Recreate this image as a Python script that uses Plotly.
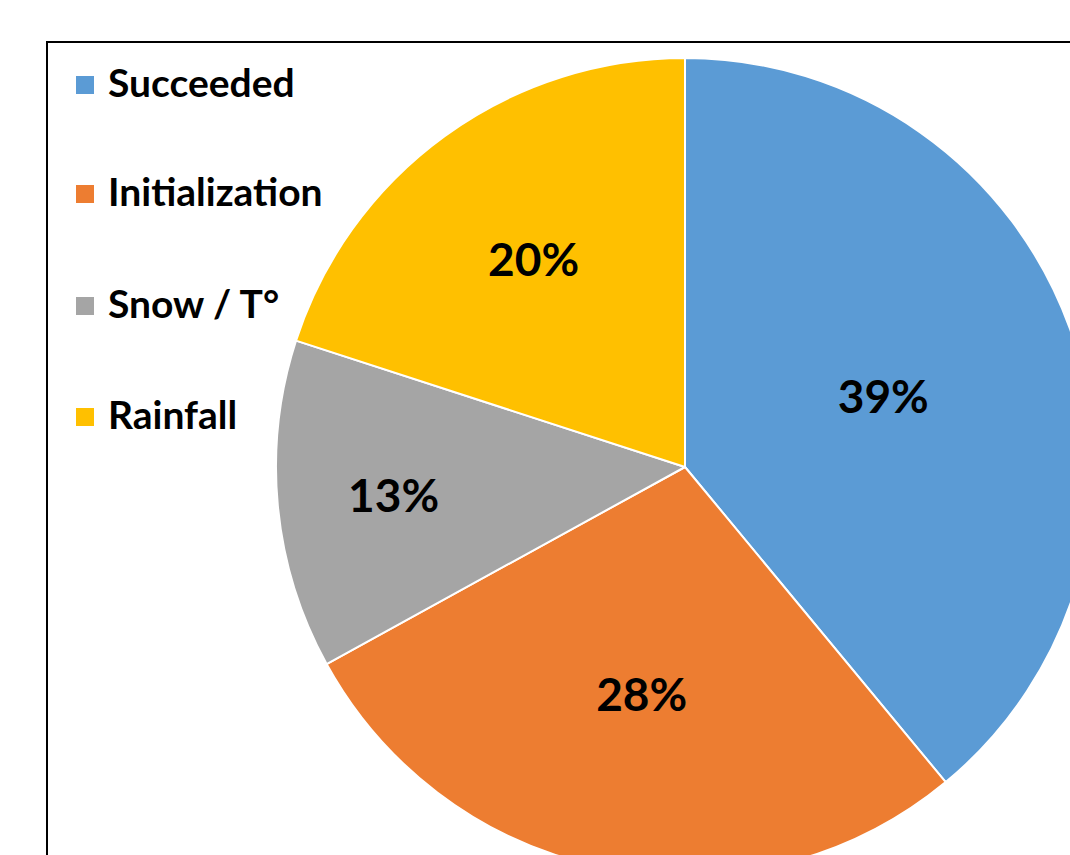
import plotly.graph_objects as go

categories = ["Succeeded", "Initialization", "Snow / T°", "Rainfall"]
values = [39, 28, 13, 20]
colors = ["#5B9BD5", "#ED7D31", "#A5A5A5", "#FFC000"]

W, H = 1120, 900
cx_px, cy_px, r_px = 685, 467, 409

fig = go.Figure()
fig.add_trace(go.Pie(
    labels=categories,
    values=values,
    sort=False,
    direction="clockwise",
    rotation=0,
    marker=dict(colors=colors, line=dict(color="white", width=2)),
    textinfo="percent",
    textposition="inside",
    insidetextorientation="horizontal",
    textfont=dict(family="Lato", size=46, color="black", weight="bold"),
    showlegend=False,
    domain=dict(x=[(cx_px - r_px) / W, (cx_px + r_px) / W],
                y=[1 - (cy_px + r_px) / H, 1 - (cy_px - r_px) / H]),
))

# frame
fig.add_shape(type="rect", xref="paper", yref="paper",
              x0=47 / W, x1=1.2, y0=-0.2, y1=1 - 42 / H,
              line=dict(color="black", width=2), layer="below")

# legend (squares + labels)
row_y = [85, 194, 306, 417]
for i, (lab, col) in enumerate(zip(categories, colors)):
    yc = row_y[i]
    fig.add_shape(type="rect", xref="paper", yref="paper",
                  x0=76 / W, x1=94 / W, y0=1 - (yc + 9) / H, y1=1 - (yc - 9) / H,
                  fillcolor=col, line=dict(width=0))
    fig.add_annotation(xref="paper", yref="paper", x=106 / W, y=1 - (yc - 3) / H,
                       xanchor="left", yanchor="middle", showarrow=False,
                       text=lab, font=dict(family="Lato", size=39, color="black", weight="bold"))

fig.update_layout(width=W, height=H, margin=dict(l=0, r=0, t=0, b=0),
                  paper_bgcolor="white", plot_bgcolor="white")

fig.write_html("out.html", config={"displayModeBar": False},
               post_script="document.body.style.margin='0';document.body.style.overflow='hidden';document.documentElement.style.overflow='hidden';")
